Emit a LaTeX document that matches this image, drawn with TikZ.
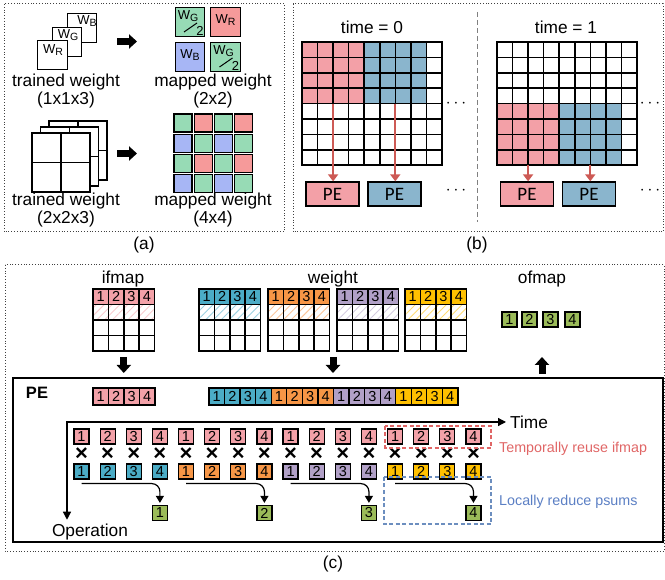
\documentclass[tikz,border=0pt]{standalone}
\usepackage{fontspec}
\setmainfont{Liberation Sans}
\newfontfamily\calfont{Carlito}
\usetikzlibrary{arrows.meta}
\usetikzlibrary{positioning}
\usetikzlibrary{calc}
\usetikzlibrary{patterns.meta}

\definecolor{wgreen}{HTML}{97DBB5}
\definecolor{wred}{HTML}{F69A9A}
\definecolor{wblue}{HTML}{A7B6F5}
\definecolor{bpink}{HTML}{F3A0A7}
\definecolor{bblue}{HTML}{8AB5CD}
\definecolor{arrred}{HTML}{CD5A55}
\definecolor{cpink}{HTML}{F3A1A8}
\definecolor{cteal}{HTML}{4BACC6}
\definecolor{corange}{HTML}{F79646}
\definecolor{cpurple}{HTML}{B1A0C7}
\definecolor{cyellow}{HTML}{FFC000}
\definecolor{cgreen}{HTML}{9BBB59}
\definecolor{reusered}{HTML}{E06666}
\definecolor{reduceblue}{HTML}{6C8EBF}
\definecolor{reducetext}{HTML}{5B7FC4}

\newcommand{\bigfont}{\fontsize{17.3}{18}\selectfont}
\newcommand{\numfont}{\fontsize{14.5}{14.5}\selectfont}
\newcommand{\wsub}[1]{W\raisebox{-2.5pt}{\fontsize{10.5}{10.5}\selectfont #1}}

% 4x4 map of part (c): numbered first row, hatched second row
\newcommand{\fmapgrid}[3]{%
  \begin{scope}[shift={#1}]
    \foreach \i in {1,...,4}
      \node[num cell,fill=#2] (#3-\i) at (\i*15.4-7.7,7.75) {\i};
    \fill[pattern={Lines[angle=45,distance=5.5pt,line width=0.9pt]},pattern color=#2!55] (0,15.5) rectangle (61.6,31);
    \foreach \i in {0,...,4}
      \draw[grid line] (\i*15.4,0) -- (\i*15.4,62);
    \foreach \j in {0,...,4}
      \draw[grid line] (0,\j*15.5) -- (61.6,\j*15.5);
    \coordinate (#3-bot) at (30.8,62);
  \end{scope}}

% 9x8 PE array of part (b), #1 = first coloured row
\newcommand{\pegrid}[1]{%
  \fill[bpink] (0,#1*15.4) rectangle (62.2,#1*15.4+61.6);
  \fill[bblue] (62.2,#1*15.4) rectangle (124.4,#1*15.4+61.6);
  \foreach \i in {0,...,9}
    \draw[grid line] (\i*15.55,0) -- (\i*15.55,123.2);
  \foreach \j in {0,...,8}
    \draw[grid line] (0,\j*15.4) -- (139.95,\j*15.4);}

\begin{document}
\begin{tikzpicture}[x=1pt,y=-1pt,
    grid line/.style={line width=1.6pt,line cap=rect},
    num cell/.style={minimum width=15.4pt,minimum height=15.5pt,inner sep=0pt,font=\numfont},
    w box/.style={draw,fill=white,line width=1.3pt,minimum size=29.5pt,inner sep=0pt},
    w text/.style={font=\fontsize{13}{13}\selectfont,inner sep=0pt},
    map cell/.style={draw,line width=1.1pt,minimum size=18pt,inner sep=0pt},
    big text/.style={font=\bigfont,inner sep=0pt,align=center},
    block arrow/.style={line width=7pt,-{Triangle[length=8pt,width=14pt]}},
    panel/.style={line width=1pt,black!75,dash pattern=on 1pt off 1.8pt},
    pe node/.style={draw,line width=1.3pt,minimum width=53pt,minimum height=24pt,inner sep=0pt,font=\calfont\fontsize{19}{19}\selectfont},
    red arrow/.style={arrred,line width=2pt,-{Triangle[length=7pt,width=10pt]}},
    dots node/.style={inner sep=0pt,font=\bigfont},
    strip cell/.style={draw,line width=1.2pt,minimum width=15.5pt,minimum height=17pt,inner sep=0pt,font=\numfont},
    op cell/.style={draw,line width=1.2pt,minimum size=15pt,inner sep=0pt,font=\numfont},
    mul sign/.style={inner sep=0pt,font=\fontsize{22}{22}\selectfont\bfseries},
    sum arrow/.style={line width=1.2pt,-{Triangle[length=7pt,width=8pt]},rounded corners=8pt,shorten >=2pt},
    axis arrow/.style={line width=1.2pt,{Triangle[length=8pt,width=8pt]}-{Triangle[length=8pt,width=8pt]}}]
  \useasboundingbox (0,0) rectangle (665,580);

  % ---------- (a) ----------
  \draw[panel] (4,4) rectangle (284,232);
  \node[w box] (wb) at (82,28) {};
  \node[w box] (wg) at (67,42) {};
  \node[w box] (wr) at (52.5,55) {};
  \node[w text] (wbt) at (87,21) {\wsub{B}};
  \node[w text] (wgt) at (68,35) {\wsub{G}};
  \node[w text] (wrt) at (53,50) {\wsub{R}};

  \node[w box,fill=wgreen] (m11) at (190,22) {};
  \node[w box,fill=wred] (m12) at (225.5,22) {};
  \node[w box,fill=wblue] (m21) at (190,57) {};
  \node[w box,fill=wgreen] (m22) at (225.5,57) {};
  \node[w text] (m12t) at (225.5,20) {\wsub{R}};
  \node[w text] (m21t) at (190,55) {\wsub{B}};
  \foreach \m in {m11,m22}{
    \node[w text] (\m g) at ([shift={(-2,-6)}]\m.center) {\wsub{G}};
    \node[w text] (\m h) at ([shift={(10,9)}]\m.center) {2};
    \draw[line width=1pt] ([shift={(-6,10)}]\m.center) -- ([shift={(7,1)}]\m.center);
  }
  \coordinate (a1s) at (117,41.5);
  \coordinate (a1e) at (137,41.5);
  \draw[block arrow] (a1s) -- (a1e);
  \node[big text] (tw1) at (66,91) {trained weight\\(1x1x3)};
  \node[big text] (mw1) at (213,91) {mapped weight\\(2x2)};

  \foreach \dx/\dy in {17/-12,8.5/-6,0/0}
    \draw[line width=1.5pt,fill=white,shift={(\dx,\dy)}] (32,133) rectangle (90,192)
      (61,133) -- (61,192) (32,162.5) -- (90,162.5);
  \foreach \r/\ca/\cb in {0/wgreen/wred,1/wblue/wgreen,2/wgreen/wred,3/wblue/wgreen}
    \foreach \c/\cc in {0/\ca,1/\cb,2/\ca,3/\cb}
      \node[map cell,fill=\cc] (mw-\r-\c) at (183+20.3*\c,123+20.3*\r) {};
  \coordinate (a2s) at (117,153.5);
  \coordinate (a2e) at (137,153.5);
  \draw[block arrow] (a2s) -- (a2e);
  \node[big text] (tw2) at (66,210) {trained weight\\(2x2x3)};
  \node[big text] (mw2) at (213,210) {mapped weight\\(4x4)};
  \node[big text] (capa) at (144,245) {(a)};

  % ---------- (b) ----------
  \draw[panel] (293,4) rectangle (663,232);
  \draw[gray,line width=0.8pt,dash pattern=on 5pt off 3pt] (477,12) -- (477,222);
  \node[big text] (time0) at (372,27) {time = 0};
  \node[big text] (time1) at (566,27) {time = 1};
  \begin{scope}[shift={(302,42)}]
    \pegrid{0}
  \end{scope}
  \begin{scope}[shift={(497,42)}]
    \pegrid{4}
  \end{scope}
  \node[pe node,fill=bpink] (pe0a) at (332.5,194) {PE};
  \node[pe node,fill=bblue] (pe0b) at (394.5,194) {PE};
  \node[pe node,fill=bpink] (pe1a) at (527,194) {PE};
  \node[pe node,fill=bblue] (pe1b) at (589,194) {PE};
  \coordinate (s0a) at (333.1,103.6);
  \coordinate (s0b) at (395.3,103.6);
  \coordinate (s1a) at (528.1,165.2);
  \coordinate (s1b) at (590.3,165.2);
  \draw[red arrow] (s0a) -- (s0a |- pe0a.north);
  \draw[red arrow] (s0b) -- (s0b |- pe0b.north);
  \draw[red arrow] (s1a) -- (s1a |- pe1a.north);
  \draw[red arrow] (s1b) -- (s1b |- pe1b.north);
  \node[dots node] (dots0a) at (456,104) {$\cdots$};
  \node[dots node] (dots0b) at (456,191) {$\cdots$};
  \node[dots node] (dots1a) at (650,104) {$\cdots$};
  \node[dots node] (dots1b) at (650,191) {$\cdots$};
  \node[big text] (capb) at (477,245) {(b)};

  % ---------- (c) ----------
  \draw[panel] (5,265) rectangle (664,551);
  \node[big text] (ifmaplbl) at (123,279) {ifmap};
  \node[big text] (weightlbl) at (333,279) {weight};
  \node[big text] (ofmaplbl) at (542,279) {ofmap};
  \fmapgrid{(93,289)}{cpink}{if}
  \fmapgrid{(199,289)}{cteal}{wt}
  \fmapgrid{(268,289)}{corange}{wo}
  \fmapgrid{(337,289)}{cpurple}{wp}
  \fmapgrid{(405,289)}{cyellow}{wy}
  \foreach \i/\xx in {1/509.5,2/529.5,3/550.5,4/572.5}
    \node[op cell,fill=cgreen] (of\i) at (\xx,319.5) {\i};

  \node[draw,line width=2pt,minimum width=650pt,minimum height=164pt,inner sep=0pt] (pebox) at (338,460) {};
  \node[inner sep=0pt,font=\fontsize{16.5}{17}\selectfont\bfseries] (petitle) at (37,393) {PE};
  \coordinate (wt-bot) at (333,351);
  \coordinate (of-top) at (542,357);
  \draw[block arrow,shorten <=6pt,shorten >=4pt] (if-bot) -- (if-bot |- pebox.north);
  \draw[block arrow,shorten <=6pt,shorten >=4pt] (wt-bot) -- (wt-bot |- pebox.north);
  \draw[block arrow,shorten <=3pt] (pebox.north -| of-top) -- (of-top);

  \foreach \i in {1,...,4}
    \node[strip cell,fill=cpink] (sif\i) at ({93+15.5*\i-7.75},396.5) {\i};
  \foreach \g/\col in {0/cteal,1/corange,2/cpurple,3/cyellow}
    \foreach \k in {1,...,4}
      \node[strip cell,fill=\col] (sw\g\k) at ({209+15.56*(4*\g+\k)-7.78},396.5) {\k};

  \coordinate (orig) at (67,422);
  \node[big text,anchor=west] (timelbl) at (510,422) {Time};
  \node[big text] (oplbl) at (90,532) {Operation};
  \draw[axis arrow,shorten <=4pt,shorten >=4pt] (timelbl.west) -- (orig) -- (orig |- oplbl.north);

  \foreach \g/\col in {0/cteal,1/corange,2/cpurple,3/cyellow}{
    \foreach \k in {1,...,4}{
      \pgfmathsetmacro{\xc}{81.5+26.13*(4*\g+\k-1)}
      \node[op cell,fill=cpink] (in\g\k) at (\xc,436.5) {\k};
      \node[mul sign] (x\g\k) at (\xc,454) {×};
      \node[op cell,fill=\col] (w\g\k) at (\xc,471.5) {\k};
    }
    \pgfmathsetmacro{\xr}{81.5+26.13*(4*\g+3)}
    \pgfmathtruncatemacro{\rn}{\g+1}
    \node[op cell,fill=cgreen] (res\g) at (\xr,513) {\rn};
    \draw[sum arrow] ([yshift=-4pt]w\g1.south) -| (res\g.north);
  }

  \draw[reusered,line width=1.2pt,dash pattern=on 4pt off 2.5pt] (385,426) rectangle (491,448);
  \draw[reduceblue,line width=1.2pt,dash pattern=on 4pt off 2.5pt] (384,477) rectangle (491,524);
  \node[anchor=west,inner sep=0pt,font=\fontsize{14.3}{15}\selectfont,text=reusered] (reuselbl) at (499,449) {Temporally reuse ifmap};
  \node[anchor=west,inner sep=0pt,font=\fontsize{14.3}{15}\selectfont,text=reducetext] (reducelbl) at (499,502) {Locally reduce psums};
  \node[big text] (capc) at (333,564) {(c)};
\end{tikzpicture}
\end{document}
